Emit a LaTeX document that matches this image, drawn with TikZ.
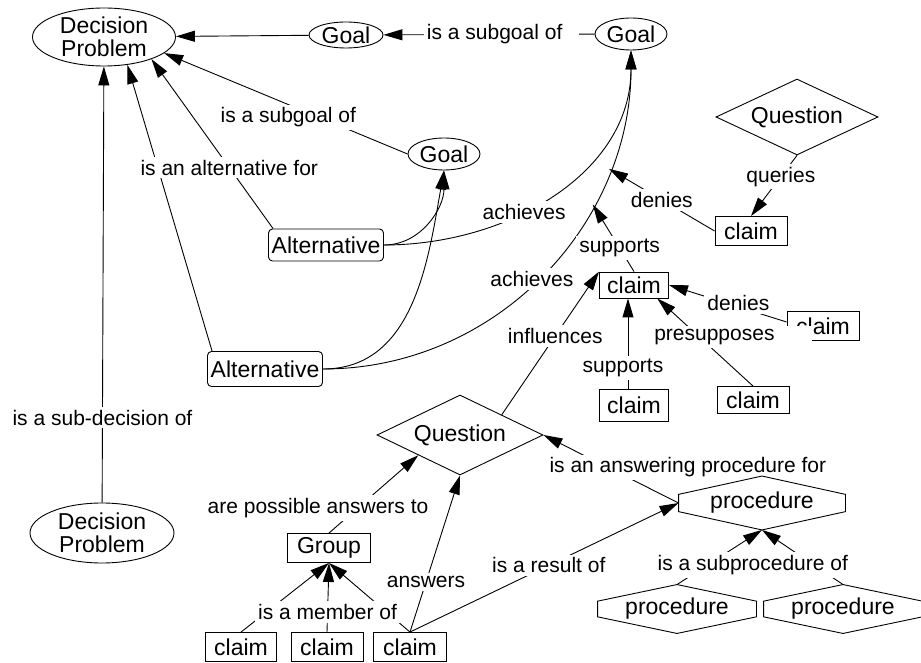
\documentclass[tikz,border=0pt]{standalone}
\usepackage{fontspec}
\setmainfont{Liberation Sans}
\usepackage{tikz}
\usetikzlibrary{arrows.meta, positioning}
\usetikzlibrary{shapes.geometric}
\usetikzlibrary{calc}

\newcommand{\conceptfont}{\fontsize{23}{23}\selectfont}
\newcommand{\relfont}{\fontsize{21}{22}\selectfont}

\tikzset{
  concept/.style={draw, ellipse, inner sep=0pt, font=\conceptfont, minimum width=72, minimum height=32},
  claimbox/.style={draw, rectangle, inner sep=0pt, font=\conceptfont, minimum width=72, minimum height=29},
  altbox/.style={draw, rectangle, rounded corners=4pt, inner sep=0pt, font=\conceptfont, minimum width=115, minimum height=34},
  quest/.style={draw, diamond, aspect=2.1, inner sep=0pt, font=\conceptfont},
  procbox/.style={rectangle, inner sep=0pt, font=\conceptfont, minimum width=158, minimum height=48},
  rel/.style={fill=white, inner sep=3pt, font=\relfont},
  arr/.style={-{Triangle[length=19pt,width=11pt]}},
}

\begin{document}
\begin{tikzpicture}[x=1pt,y=1pt,line width=0.9pt]
\path[fill=white] (0,0) rectangle (921,662);
\useasboundingbox (0,0) rectangle (921,662);

            \node[concept,align=center,minimum width=143,minimum height=58](dpA) at (104,625) {Decision\\Problem};
            \node[concept,minimum width=74,minimum height=26](goalA) at (346,627) {Goal};
            \node[concept](goalB) at (631,628) {Goal};
            \node[concept](goalC) at (444,508) {Goal};
            \node[quest,minimum width=162,minimum height=76](qA) at (797,545) {Question};
            \node[claimbox](claimA) at (751,431) {claim};
            \node[altbox,minimum height=32](altA) at (326,417) {Alternative};
            \node[altbox,minimum height=35](altB) at (265,293) {Alternative};
            \node[claimbox,minimum width=69,minimum height=26](claimB) at (634,377) {claim};
            \node[claimbox](claimC) at (823,336) {claim};
            \node[claimbox,minimum width=69,minimum height=32](claimD) at (634,257) {claim};
            \node[claimbox,minimum height=27](claimE) at (753,262) {claim};
            \node[quest,minimum width=166,minimum height=80](qB) at (460,227) {Question};
            \node[procbox,minimum width=166,minimum height=53](procA) at (762,159) {procedure};
            \node[procbox](procB) at (677,53) {procedure};
            \node[procbox](procC) at (843,53) {procedure};
            \node[claimbox,minimum width=83](grp) at (329,114) {Group};
            \node[claimbox,minimum width=71](claimF) at (241,15) {claim};
            \node[claimbox](claimG) at (327,15) {claim};
            \node[claimbox,minimum width=73](claimH) at (410,15) {claim};
            \node[concept,align=center,minimum width=144,minimum height=60](dpB) at (102,129) {Decision\\Problem};

            \draw[arr] ([xshift=5pt]altB.north west) -- (dpA.-50);
            \draw[arr] ([xshift=5pt]altA.north west) -- node[rel,pos=0.36](lAltFor){is an alternative for} (dpA.-25);
            \draw[arr] (dpB) -- node[rel,pos=0.195](lSubDec){is a sub-decision of} (dpA);
            \draw[arr] (goalA) -- (dpA);
            \draw[arr] (goalB) -- node[rel,pos=0.44](lSubA){is a subgoal of\hspace*{14pt}} (goalA);
            \draw[arr] (goalC.west) -- node[rel,pos=0.49,yshift=-13](lSubB){is a subgoal of} (dpA.-15);

            \draw[arr] (altA.east) to[out=0,in=-90] (goalC.south);
            \draw[arr] (altB.east) to[out=0,in=-100] (goalC.south);
            \draw[arr] (altA.east) to[out=0,in=-90] node[rel,pos=0.4](lAchA){achieves} (goalB.south);
            \draw[arr] (altB.east) to[out=0,in=-90] node[rel,pos=0.47,yshift=6](lAchB){achieves}
                coordinate[pos=0.68](supAt) coordinate[pos=0.76](denAt) (goalB.south);

            \draw[arr] (claimA.west) -- node[rel](lDenA){denies} (denAt);
            \draw[arr] (qA.south) -- node[rel,pos=0.35](lQueries){queries} (claimA.north);
            \draw[arr] (claimB.north) -- node[rel,pos=0.35](lSupA){supports} (supAt);
            \draw[arr] ([yshift=4pt]claimC.west) -- node[rel,pos=0.41,yshift=4](lDenB){denies} (claimB.east);
            \draw[arr] (claimE.north) -- node[rel,pos=0.56,xshift=32](lPresup){presupposes\hspace*{34pt}} (claimB.-30);
            \draw[arr] ([xshift=-6pt]claimD.north) -- node[rel,pos=0.23,xshift=-5](lSupB){supports} ([xshift=-6pt]claimB.south);
            \draw[arr] (qB.north east) -- node[rel,pos=0.55](lInfl){influences} (claimB.north west);

            \draw[arr] (procA.west) -- node[rel,pos=0.375,xshift=60,yshift=10](lAnsProc){is an answering procedure for} (qB.east);
            \draw[arr] (grp.north) -- node[rel,pos=0.325,xshift=-40](lPossAns){are possible answers to} (qB.south west);
            \draw[arr] (claimF.north) -- (grp.south);
            \draw[arr] (claimH.north) -- (grp.south);
            \draw[arr] (claimG.north) -- node[rel,pos=0.29](lMember){is a member of} (grp.south);
            \draw[arr] (claimH.north) -- node[rel,pos=0.32](lAnswers){answers} (qB.south);
            \draw[arr] (claimH.north) -- node[rel,pos=0.517](lResult){is a result of} (procA.west);

            \draw[arr] (procB.north) -- (procA.south);
            \draw[arr] (procC.north) -- node[rel,pos=0.36,xshift=-61](lSubProc){is a subprocedure of} (procA.south);

            \foreach \p in {procA,procB,procC}
              \draw (\p.north) -- ($(\p.north east)!0.34!(\p.south east)$) -- ($(\p.north east)!0.66!(\p.south east)$)
                -- (\p.south) -- ($(\p.north west)!0.66!(\p.south west)$) -- ($(\p.north west)!0.34!(\p.south west)$) -- cycle;
        \end{tikzpicture}
\end{document}
